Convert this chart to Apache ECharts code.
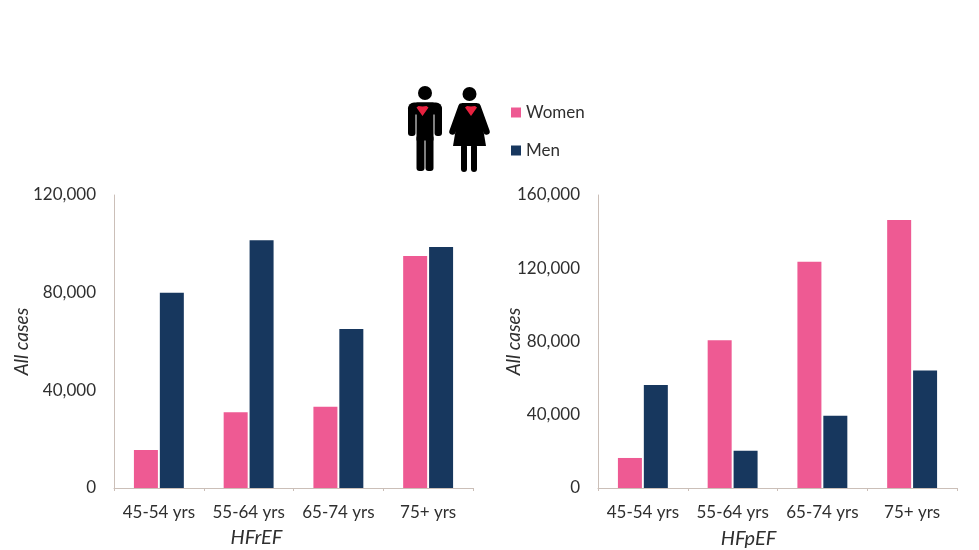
<!DOCTYPE html>
<html>
<head>
<meta charset="utf-8">
<style>html,body{margin:0;background:#fff}#chart{width:979px;height:550px}</style>
<script src="https://cdn.jsdelivr.net/npm/echarts@6/dist/echarts.min.js"></script>
</head>
<body>
<div id="chart"></div>
<script>
const ageGroups = ['45-54 yrs', '55-64 yrs', '65-74 yrs', '75+ yrs'];
const hfrefWomen = [15600, 31000, 33300, 95000];
const hfrefMen = [80000, 101500, 65100, 98700];
const hfpefWomen = [16400, 80700, 123500, 146400];
const hfpefMen = [56200, 20300, 39400, 64200];
const hfrefTicks = { max: 120000, interval: 40000 };
const hfpefTicks = { max: 160000, interval: 40000 };

const PINK = '#ee5a93';
const NAVY = '#17375e';
const AXIS = '#cbbfb8';
const TEXT = '#2f2f2f';
const FONT = 'Lato';

function xAxis(index, name, nameGap, shift) {
  return {
    type: 'category', gridIndex: index, data: ageGroups,
    name, nameLocation: 'middle', nameGap,
    nameTextStyle: {
      fontFamily: FONT, fontStyle: 'italic', fontSize: 20, color: TEXT,
      padding: [0, shift * 2, 0, 0]
    },
    axisLine: { lineStyle: { color: AXIS, width: 1 } },
    axisTick: { show: true, length: 3, lineStyle: { color: AXIS } },
    axisLabel: { fontFamily: FONT, fontSize: 17, color: TEXT, margin: 16, interval: 0 }
  };
}
function yAxis(index, ticks, nameGap) {
  return {
    type: 'value', gridIndex: index, min: 0, max: ticks.max, interval: ticks.interval,
    name: 'All cases', nameLocation: 'middle', nameGap, nameRotate: 90,
    nameMoveOverlap: false,
    nameTextStyle: { fontFamily: FONT, fontStyle: 'italic', fontSize: 19, color: TEXT },
    axisLine: { show: true, lineStyle: { color: AXIS, width: 1 } },
    axisTick: { show: false },
    splitLine: { show: false },
    axisLabel: {
      fontFamily: FONT, fontSize: 17, color: TEXT, margin: 18,
      formatter: v => v.toLocaleString('en-US')
    }
  };
}
function bars(name, color, data, index) {
  return {
    type: 'bar', name, data, xAxisIndex: index, yAxisIndex: index,
    barWidth: 24, barGap: '8%',
    itemStyle: { color }
  };
}

// Pictograms of a man and a woman, each with a red heart on the chest
const INK = '#000';
const HEART = '#e8213f';
const block = (x, y, width, height, r) =>
  ({ type: 'rect', shape: { x, y, width, height, r }, style: { fill: INK } });
const limb = (x1, y1, x2, y2) =>
  ({ type: 'line', shape: { x1, y1, x2, y2 }, style: { stroke: INK, lineWidth: 6.5, lineCap: 'round' } });
const heart = (cx, top) => ({
  type: 'polygon',
  shape: { points: [[cx - 6, top + 1.5], [cx - 4, top], [cx, top + 0.5], [cx + 4, top], [cx + 6, top + 1.5], [cx, top + 10]] },
  style: { fill: HEART }
});
const man = [
  { type: 'circle', shape: { cx: 425, cy: 93, r: 7 }, style: { fill: INK } },
  block(408, 102.5, 34, 12, [6, 6, 0, 0]),
  block(408, 106, 7.5, 30, 3),
  block(434.5, 106, 7.5, 30, 3),
  block(416.5, 102.5, 17, 38, 0),
  block(416.5, 135, 8, 36, 3),
  block(425.5, 135, 8, 36, 3),
  heart(422.5, 106)
];
const woman = [
  { type: 'circle', shape: { cx: 469.5, cy: 94, r: 7 }, style: { fill: INK } },
  { type: 'polygon', shape: { points: [[462, 103], [477, 103], [480, 110], [486, 146], [453, 146], [459, 110]] }, style: { fill: INK } },
  limb(461.5, 106.5, 452.5, 131.5),
  limb(477.5, 106.5, 486.5, 131.5),
  block(461, 144, 6, 28, 3),
  block(471, 144, 6, 28, 3),
  heart(471, 106)
];

const chart = echarts.init(document.getElementById('chart'), null, { renderer: 'canvas' });
chart.setOption({
  backgroundColor: '#ffffff',
  animation: false,
  legend: {
    orient: 'vertical', left: 506, top: 99, itemWidth: 10, itemHeight: 10, itemGap: 21,
    icon: 'rect', data: ['Women', 'Men'],
    textStyle: { fontFamily: FONT, fontSize: 17, color: TEXT }
  },
  grid: [
    { left: 114, top: 195, width: 359, height: 293, outerBoundsMode: 'none' },
    { left: 598, top: 195, width: 359, height: 293, outerBoundsMode: 'none' }
  ],
  xAxis: [xAxis(0, 'HFrEF', 40, 37), xAxis(1, 'HFpEF', 41, 29)],
  yAxis: [yAxis(0, hfrefTicks, 83), yAxis(1, hfpefTicks, 75)],
  series: [
    bars('Women', PINK, hfrefWomen, 0),
    bars('Men', NAVY, hfrefMen, 0),
    bars('Women', PINK, hfpefWomen, 1),
    bars('Men', NAVY, hfpefMen, 1)
  ],
  graphic: man.concat(woman)
});
</script>
</body>
</html>
